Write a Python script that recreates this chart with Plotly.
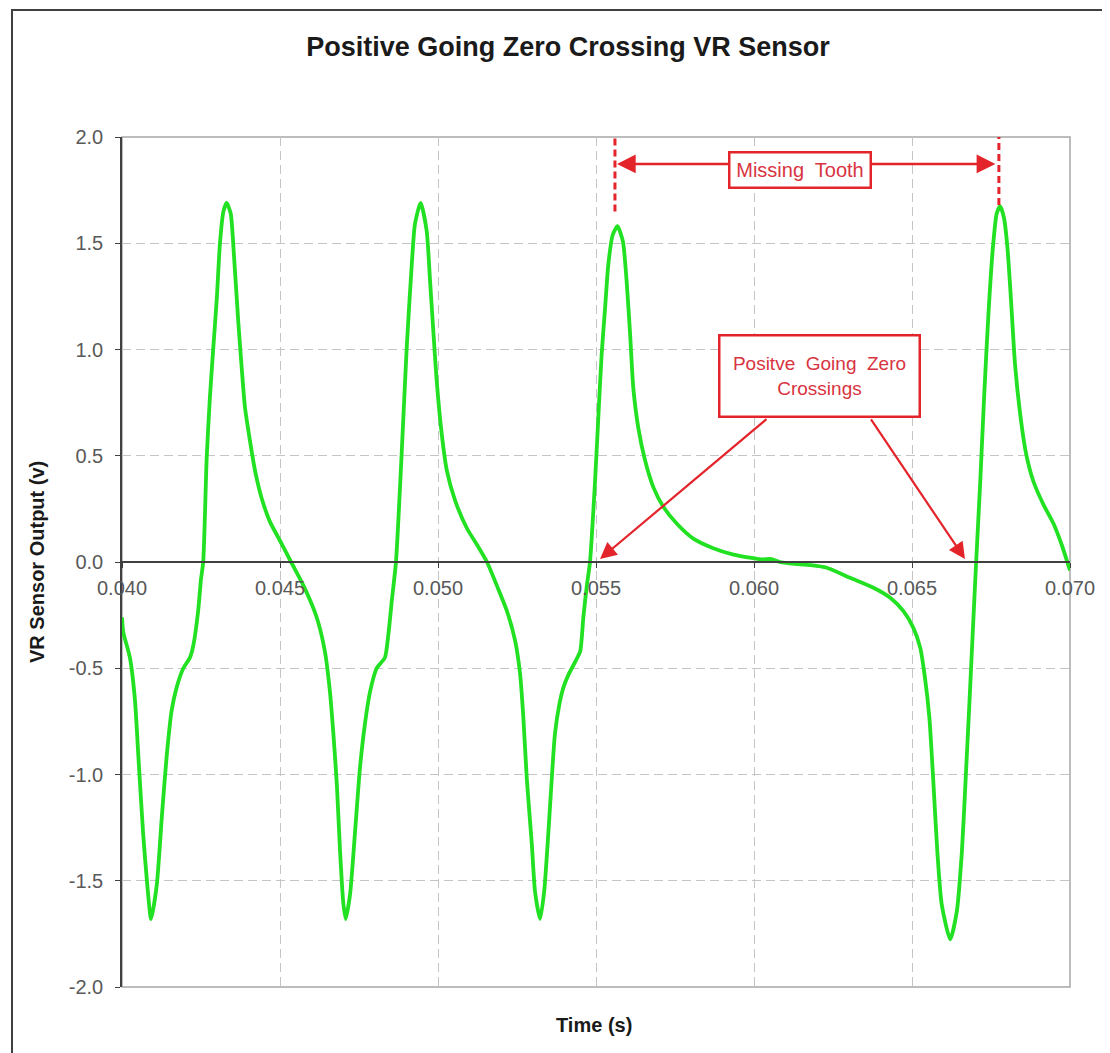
import plotly.graph_objects as go

# ---- data ----
time_s = [
    0.04000, 0.04004, 0.04025, 0.04041, 0.04052, 0.04067, 0.04080, 0.04092, 0.04110, 0.04126,
    0.04141, 0.04157, 0.04173, 0.04194, 0.04215, 0.04226, 0.04241, 0.04250, 0.04257, 0.04268,
    0.04278, 0.04289, 0.04300, 0.04310, 0.04321, 0.04331, 0.04344, 0.04354, 0.04368, 0.04379,
    0.04389, 0.04405, 0.04421, 0.04442, 0.04468, 0.04500, 0.04535, 0.04574, 0.04616, 0.04642,
    0.04658, 0.04669, 0.04680, 0.04690, 0.04700, 0.04708, 0.04722, 0.04737, 0.04753, 0.04769,
    0.04785, 0.04806, 0.04832, 0.04843, 0.04854, 0.04867, 0.04885, 0.04901, 0.04917, 0.04927,
    0.04945, 0.04964, 0.04975, 0.04985, 0.04996, 0.05012, 0.05028, 0.05054, 0.05091, 0.05128,
    0.05155, 0.05186, 0.05218, 0.05244, 0.05260, 0.05270, 0.05281, 0.05297, 0.05307, 0.05323,
    0.05336, 0.05349, 0.05360, 0.05370, 0.05384, 0.05397, 0.05413, 0.05434, 0.05450, 0.05460,
    0.05471, 0.05481, 0.05497, 0.05508, 0.05518, 0.05529, 0.05539, 0.05553, 0.05568, 0.05585,
    0.05597, 0.05608, 0.05618, 0.05634, 0.05655, 0.05682, 0.05713, 0.05756, 0.05808, 0.05871,
    0.05935, 0.05998, 0.06025, 0.06055, 0.06082, 0.06120, 0.06180, 0.06230, 0.06304, 0.06378,
    0.06431, 0.06473, 0.06504, 0.06526, 0.06541, 0.06555, 0.06568, 0.06580, 0.06594, 0.06621,
    0.06642, 0.06658, 0.06670, 0.06682, 0.06692, 0.06703, 0.06716, 0.06728, 0.06742, 0.06756,
    0.06768, 0.06779, 0.06791, 0.06802, 0.06813, 0.06826, 0.06842, 0.06861, 0.06884, 0.06916,
    0.06948, 0.06974, 0.07000,
]
volts = [
    -0.26, -0.33, -0.45, -0.65, -0.92, -1.28, -1.52, -1.68, -1.52, -1.20,
    -0.92, -0.70, -0.59, -0.50, -0.45, -0.39, -0.23, -0.08, 0.00, 0.49,
    0.77, 1.01, 1.24, 1.50, 1.65, 1.69, 1.64, 1.45, 1.13, 0.91,
    0.73, 0.57, 0.43, 0.30, 0.19, 0.10, 0.00, -0.11, -0.26, -0.42,
    -0.61, -0.81, -1.05, -1.36, -1.60, -1.68, -1.56, -1.28, -0.97, -0.76,
    -0.61, -0.50, -0.45, -0.34, -0.18, 0.00, 0.51, 1.01, 1.40, 1.59,
    1.69, 1.56, 1.32, 1.09, 0.85, 0.60, 0.43, 0.29, 0.16, 0.07,
    0.00, -0.11, -0.23, -0.37, -0.53, -0.73, -1.02, -1.33, -1.55, -1.68,
    -1.55, -1.28, -1.02, -0.81, -0.67, -0.59, -0.53, -0.47, -0.42, -0.26,
    -0.11, 0.00, 0.38, 0.70, 0.98, 1.20, 1.40, 1.54, 1.58, 1.51,
    1.32, 1.07, 0.82, 0.63, 0.48, 0.35, 0.26, 0.18, 0.11, 0.065,
    0.035, 0.018, 0.012, 0.014, 0.000, -0.008, -0.015, -0.027, -0.074, -0.121,
    -0.168, -0.231, -0.309, -0.403, -0.545, -0.733, -1.046, -1.36, -1.611, -1.776,
    -1.642, -1.36, -1.015, -0.654, -0.34, 0.00, 0.38, 0.77, 1.17, 1.48,
    1.64, 1.675, 1.62, 1.48, 1.24, 0.93, 0.70, 0.51, 0.38, 0.27,
    0.18, 0.08, -0.04,
]
x_ticks = [0.040, 0.045, 0.050, 0.055, 0.060, 0.065, 0.070]
x_tick_labels = ["0.040", "0.045", "0.050", "0.055", "0.060", "0.065", "0.070"]
y_ticks = [-2.0, -1.5, -1.0, -0.5, 0.0, 0.5, 1.0, 1.5, 2.0]
y_tick_labels = ["-2.0", "-1.5", "-1.0", "-0.5", "0.0", "0.5", "1.0", "1.5", "2.0"]

# annotation anchor values (data units)
tooth_start, tooth_end = 0.05560, 0.06775
tooth_start_top, tooth_end_top = 1.65, 1.68
tooth_arrow_v = 1.873
tooth_label = (0.06147, 1.847)
zc_label = (0.062057, 0.875)
zc_arrow_tails = [(0.060443, 0.678), (0.063671, 0.678)]
zc_arrow_heads = [(0.055127, 0.014), (0.066677, 0.014)]

RED = "#e3242b"
TXT_RED = "#d8343f"
GREEN = "#22e022"
FONT = "Liberation Sans, Arial, sans-serif"

fig = go.Figure()
fig.add_trace(go.Scatter(
    x=time_s, y=volts, mode="lines",
    line=dict(color=GREEN, width=3.8, shape="spline", smoothing=0.6),
    showlegend=False, hoverinfo="skip",
))

# page has an 8px body margin; compensate so the plot lands where the reference has it
OFF = 8
W, H = 1110 - OFF, 1053 - OFF
L, R, T, B = 122 - OFF, 40, 137 - OFF, 66
pw, ph = W - L - R, H - T - B

def px2paper_x(px):
    return (px - OFF - L) / pw

def py2paper_y(py):
    return (OFF + H - B - py) / ph

fig.update_layout(
    width=W, height=H,
    margin=dict(l=L, r=R, t=T, b=B),
    paper_bgcolor="white", plot_bgcolor="white",
    font=dict(family=FONT, color="#595959"),
    title=dict(
        text="Positive Going Zero Crossing VR Sensor",
        xref="container", x=(568 - OFF) / W, xanchor="center",
        yref="container", y=1 - (47 - OFF) / H, yanchor="middle",
        font=dict(family=FONT, size=27, color="#1a1a1a", weight="bold"),
    ),
    xaxis=dict(
        range=[0.04, 0.07], tickvals=x_ticks, ticktext=x_tick_labels,
        showgrid=True, gridcolor="#c4c4c4", griddash="9px,5px", gridwidth=1,
        anchor="free", position=0.5,
        showline=True, linecolor="#404040", linewidth=1.5,
        ticks="outside", ticklen=5, tickcolor="#404040",
        tickfont=dict(size=20, color="#595959"),
        ticklabelstandoff=3,
        zeroline=False,
    ),
    yaxis=dict(
        range=[-2, 2], tickvals=y_ticks, ticktext=y_tick_labels,
        showgrid=True, gridcolor="#c4c4c4", griddash="9px,5px", gridwidth=1,
        showline=True, linecolor="#404040", linewidth=1.5,
        ticks="outside", ticklen=5, tickcolor="#404040",
        tickfont=dict(size=20, color="#595959"),
        ticklabelstandoff=8,
        zeroline=False,
    ),
)

# plot frame
fig.add_shape(type="rect", xref="paper", yref="paper", x0=0, y0=0, x1=1, y1=1,
              line=dict(color="#a6a6a6", width=1.5), layer="below")
# outer chart border
fig.add_shape(type="rect", xref="paper", yref="paper",
              x0=px2paper_x(12), y0=py2paper_y(1070), x1=px2paper_x(1125), y1=py2paper_y(10),
              line=dict(color="#404040", width=2), layer="below")

# axis titles
fig.add_annotation(text="VR Sensor Output (v)", xref="paper", yref="paper",
                   x=px2paper_x(37), y=0.5, textangle=-90, showarrow=False,
                   xanchor="center", yanchor="middle",
                   font=dict(family=FONT, size=20, color="#1a1a1a", weight="bold"))
fig.add_annotation(text="Time (s)", xref="paper", yref="paper",
                   x=px2paper_x(594), y=py2paper_y(1025), showarrow=False,
                   xanchor="center", yanchor="middle",
                   font=dict(family=FONT, size=20, color="#1a1a1a", weight="bold"))

# missing tooth markers
fig.add_shape(type="line", xref="x", yref="y", x0=tooth_start, x1=tooth_start,
              y0=tooth_start_top, y1=2.0, line=dict(color=RED, width=3, dash="7px,4px"))
fig.add_shape(type="line", xref="x", yref="y", x0=tooth_end, x1=tooth_end,
              y0=tooth_end_top, y1=2.0, line=dict(color=RED, width=3, dash="7px,4px"))
fig.add_annotation(x=tooth_start, y=tooth_arrow_v, ax=tooth_end, ay=tooth_arrow_v,
                   xref="x", yref="y", axref="x", ayref="y", text="",
                   showarrow=True, arrowhead=2, arrowside="end+start",
                   arrowsize=1.5, arrowwidth=2.5, arrowcolor=RED, standoff=2, startstandoff=2)
fig.add_annotation(x=tooth_label[0], y=tooth_label[1], xref="x", yref="y",
                   text="Missing  Tooth", showarrow=False,
                   bgcolor="white", bordercolor=RED, borderwidth=2.5, borderpad=3,
                   width=133, height=27,
                   font=dict(family=FONT, size=20, color=TXT_RED))

# zero-crossing callouts
for (tx, ty), (hx, hy) in zip(zc_arrow_tails, zc_arrow_heads):
    fig.add_annotation(x=hx, y=hy, ax=tx, ay=ty, xref="x", yref="y", axref="x", ayref="y",
                       text="", showarrow=True, arrowhead=2, arrowsize=1.5,
                       arrowwidth=2.2, arrowcolor=RED, standoff=0)
fig.add_annotation(x=zc_label[0], y=zc_label[1], xref="x", yref="y",
                   text="Positve  Going  Zero<br>Crossings", showarrow=False,
                   bgcolor="white", bordercolor=RED, borderwidth=2.5, borderpad=3,
                   width=192, height=73, align="center",
                   font=dict(family=FONT, size=19, color=TXT_RED))

fig.write_html("out.html")
